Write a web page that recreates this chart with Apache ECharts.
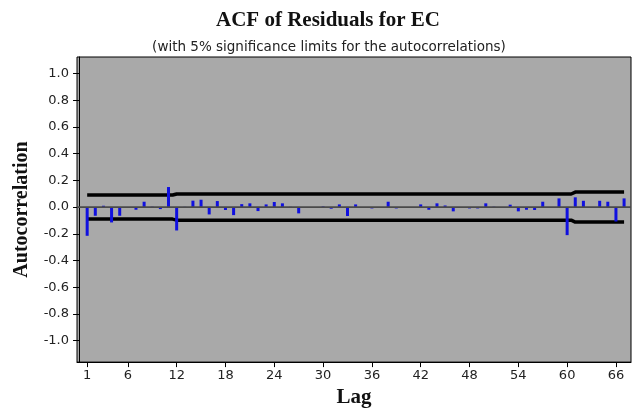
<!DOCTYPE html>
<html>
<head>
<meta charset="utf-8">
<script src="https://cdn.jsdelivr.net/npm/echarts@6/dist/echarts.min.js"></script>
<style>
  html, body { margin: 0; padding: 0; background: #fff; }
  #main { width: 633px; height: 413px; }
</style>
</head>
<body>
<div id="main"></div>
<script>
// autocorrelation at each lag
var lags = [];
for (var i = 1; i <= 67; i++) lags.push(i);
var acf = [
  -0.215, -0.065, 0.010, -0.115, -0.065, -0.005, -0.020, 0.040, 0.003, -0.015,
  0.150, -0.175, 0.002, 0.048, 0.055, -0.055, 0.045, -0.022, -0.060, 0.022,
  0.028, -0.030, 0.020, 0.038, 0.028, 0.002, -0.047, 0.000, 0.000, 0.005,
  -0.012, 0.020, -0.067, 0.020, 0.000, -0.010, 0.000, 0.040, -0.010, 0.000,
  0.000, 0.020, -0.020, 0.028, 0.012, -0.032, 0.000, -0.010, -0.010, 0.028,
  0.003, -0.003, 0.018, -0.032, -0.020, -0.022, 0.040, 0.000, 0.065, -0.210,
  0.073, 0.047, 0.000, 0.047, 0.040, -0.108, 0.065
];

// 5% significance limits (drawn as steps)
var limitLags = [1, 11, 12, 60, 61, 67];
var upperLimits = [0.09, 0.09, 0.098, 0.098, 0.112, 0.112];
var lowerLimits = [-0.09, -0.09, -0.098, -0.098, -0.112, -0.112];

var xTicks = [1, 6, 12, 18, 24, 30, 36, 42, 48, 54, 60, 66];
var yTicks = [-1, -0.8, -0.6, -0.4, -0.2, 0, 0.2, 0.4, 0.6, 0.8, 1];

var xMin = -0.25, xMax = 67.85;

var chart = echarts.init(document.getElementById('main'));

var labelFont = { fontFamily: 'DejaVu Sans', fontSize: 13, color: '#222' };

var option = {
  backgroundColor: '#fff',
  animation: false,
  title: [
    {
      text: 'ACF of Residuals for EC',
      left: 323, top: 5, textAlign: 'center',
      textStyle: { fontFamily: 'Liberation Serif', fontWeight: 'bold', fontSize: 21, color: '#111' }
    },
    {
      text: '(with 5% significance limits for the autocorrelations)',
      left: 324, top: 35, textAlign: 'center',
      textStyle: { fontFamily: 'DejaVu Sans', fontWeight: 'normal', fontSize: 13.5, color: '#222' }
    }
  ],
  grid: {
    left: 77, right: 2, top: 57, bottom: 41,
    show: true,
    backgroundColor: '#a9a9a9',
    borderColor: '#000',
    borderWidth: 1
  },
  xAxis: {
    type: 'value',
    min: xMin, max: xMax,
    name: 'Lag',
    nameLocation: 'middle',
    nameGap: 24,
    nameTextStyle: { fontFamily: 'Liberation Serif', fontWeight: 'bold', fontSize: 21, color: '#111' },
    axisLine: { show: true, onZero: false, lineStyle: { color: '#000' } },
    axisTick: { show: true, length: 5, lineStyle: { color: '#000' }, customValues: xTicks },
    axisLabel: Object.assign({ customValues: xTicks, margin: 7 }, labelFont),
    splitLine: { show: false }
  },
  yAxis: {
    type: 'value',
    min: -1.16, max: 1.123,
    name: 'Autocorrelation',
    nameLocation: 'middle',
    nameRotate: 90,
    nameGap: 45,
    nameTextStyle: { fontFamily: 'Liberation Serif', fontWeight: 'bold', fontSize: 20, color: '#111' },
    axisLine: { show: true, lineStyle: { color: '#000' } },
    axisTick: { show: true, length: 6, lineStyle: { color: '#000' }, customValues: yTicks },
    axisLabel: Object.assign({
      customValues: yTicks,
      margin: 8,
      formatter: function (v) { return v.toFixed(1); }
    }, labelFont),
    splitLine: { show: false }
  },
  series: [
    {
      // zero reference line
      type: 'line',
      symbol: 'none',
      silent: true,
      lineStyle: { color: '#4a4a4a', width: 1.6 },
      data: [[xMin, 0], [xMax, 0]],
      z: 4
    },
    {
      type: 'bar',
      barWidth: 3,
      itemStyle: { color: '#1010e0' },
      data: lags.map(function (l, i) { return [l, acf[i]]; }),
      z: 3
    },
    {
      type: 'line',
      step: 'middle',
      symbol: 'none',
      lineStyle: { color: '#000', width: 3.5 },
      data: limitLags.map(function (l, i) { return [l, upperLimits[i]]; }),
      z: 2
    },
    {
      type: 'line',
      step: 'middle',
      symbol: 'none',
      lineStyle: { color: '#000', width: 3.5 },
      data: limitLags.map(function (l, i) { return [l, lowerLimits[i]]; }),
      z: 2
    }
  ]
};

chart.setOption(option);
</script>
</body>
</html>
